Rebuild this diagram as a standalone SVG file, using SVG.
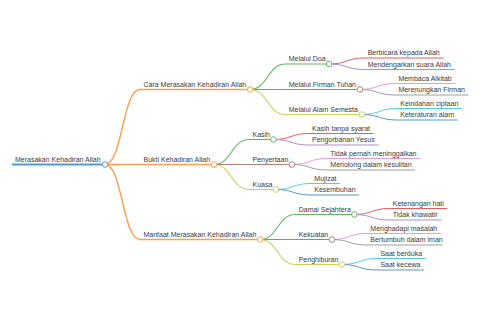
<svg xmlns="http://www.w3.org/2000/svg" width="480" height="320" viewBox="0 0 480 320">
<style>
text{font-family:"Liberation Sans",Arial,sans-serif;font-size:7px;fill:#3a3a3a}
.l0{stroke-width:1.8;fill:none}
.l1{stroke-width:1.4;fill:none}
.l2{stroke-width:1.1;fill:none}
.l3{stroke-width:1;fill:none}
circle{fill:#fff;stroke-width:1}
.c0{stroke:#5799c7}.c1{stroke:#fb9f4e}.c2{stroke:#61b861}.c3{stroke:#a98178}.c4{stroke:#cdce5a}
.c5{stroke:#e15d5e}.c6{stroke:#af8dce}.c7{stroke:#ea99d1}.c8{stroke:#9f9f9f}.c9{stroke:#51cedb}
</style>
<rect width="480" height="320" fill="#fff"/>
<g id="connectors">
<path class="l1 c1" d="M105,164.5 C122.5,164.5 122.5,89.5 140,89.5"/>
<path class="l1 c1" d="M105,164.5 L140,164.5"/>
<path class="l1 c1" d="M105,164.5 C122.5,164.5 122.5,239.5 140,239.5"/>
<path class="l2 c2" d="M250.2,89.5 C267.7,89.5 267.7,64 285.2,64"/>
<path class="l2 c3" d="M250.2,89.5 L285.2,89.5"/>
<path class="l2 c4" d="M250.2,89.5 C267.7,89.5 267.7,114.5 285.2,114.5"/>
<path class="l3 c5" d="M329.2,64 C346.7,64 346.7,58 364.2,58"/>
<path class="l3 c6" d="M329.2,64 C346.7,64 346.7,69.5 364.2,69.5"/>
<path class="l3 c7" d="M359.9,89.5 C377.4,89.5 377.4,83.5 394.9,83.5"/>
<path class="l3 c8" d="M359.9,89.5 C377.4,89.5 377.4,95 394.9,95"/>
<path class="l3 c9" d="M361.8,114.5 C379.3,114.5 379.3,108.5 396.8,108.5"/>
<path class="l3 c0" d="M361.8,114.5 C379.3,114.5 379.3,120 396.8,120"/>
<path class="l2 c2" d="M214,164.5 C231.5,164.5 231.5,139.5 249,139.5"/>
<path class="l2 c3" d="M214,164.5 L249,164.5"/>
<path class="l2 c4" d="M214,164.5 C231.5,164.5 231.5,189.5 249,189.5"/>
<path class="l3 c5" d="M273.5,139.5 C291,139.5 291,133.5 308.5,133.5"/>
<path class="l3 c6" d="M273.5,139.5 C291,139.5 291,145 308.5,145"/>
<path class="l3 c7" d="M291.8,164.5 C309.3,164.5 309.3,158.5 326.8,158.5"/>
<path class="l3 c8" d="M291.8,164.5 C309.3,164.5 309.3,170 326.8,170"/>
<path class="l3 c9" d="M275.8,189.5 C293.3,189.5 293.3,183.5 310.8,183.5"/>
<path class="l3 c0" d="M275.8,189.5 C293.3,189.5 293.3,195 310.8,195"/>
<path class="l2 c2" d="M260.2,239.5 C277.7,239.5 277.7,214.5 295.2,214.5"/>
<path class="l2 c3" d="M260.2,239.5 L295.2,239.5"/>
<path class="l2 c4" d="M260.2,239.5 C277.7,239.5 277.7,264.5 295.2,264.5"/>
<path class="l3 c5" d="M354.3,214.5 C371.8,214.5 371.8,208.5 389.3,208.5"/>
<path class="l3 c6" d="M354.3,214.5 C371.8,214.5 371.8,220 389.3,220"/>
<path class="l3 c7" d="M331.8,239.5 C349.3,239.5 349.3,233.5 366.8,233.5"/>
<path class="l3 c8" d="M331.8,239.5 C349.3,239.5 349.3,245 366.8,245"/>
<path class="l3 c9" d="M341.9,264.5 C359.4,264.5 359.4,258.5 376.9,258.5"/>
<path class="l3 c0" d="M341.9,264.5 C359.4,264.5 359.4,270 376.9,270"/>
</g>
<g id="root"><line class="l0 c0" x1="12" y1="164.5" x2="105" y2="164.5"/><text x="15" y="161.5">Merasakan Kehadiran Allah</text><circle class="c0" cx="105" cy="164.5" r="2.8"/></g>
<g id="cara"><line class="l1 c1" x1="140" y1="89.5" x2="250.2" y2="89.5"/><text x="143.5" y="86.5">Cara Merasakan Kehadiran Allah</text><circle class="c1" cx="250.2" cy="89.5" r="2.8"/></g>
<g id="bukti"><line class="l1 c1" x1="140" y1="164.5" x2="214" y2="164.5"/><text x="143.5" y="161.5">Bukti Kehadiran Allah</text><circle class="c1" cx="214" cy="164.5" r="2.8"/></g>
<g id="manfaat"><line class="l1 c1" x1="140" y1="239.5" x2="260.2" y2="239.5"/><text x="143.5" y="236.5">Manfaat Merasakan Kehadiran Allah</text><circle class="c1" cx="260.2" cy="239.5" r="2.8"/></g>
<g id="doa"><line class="l2 c2" x1="285.2" y1="64" x2="329.2" y2="64"/><text x="288.7" y="61">Melalui Doa</text><circle class="c2" cx="329.2" cy="64" r="2.8"/></g>
<g id="firman"><line class="l2 c3" x1="285.2" y1="89.5" x2="359.9" y2="89.5"/><text x="288.7" y="86.5">Melalui Firman Tuhan</text><circle class="c3" cx="359.9" cy="89.5" r="2.8"/></g>
<g id="alam"><line class="l2 c4" x1="285.2" y1="114.5" x2="361.8" y2="114.5"/><text x="288.7" y="111.5">Melalui Alam Semesta</text><circle class="c4" cx="361.8" cy="114.5" r="2.8"/></g>
<g id="berbicara"><line class="l3 c5" x1="364.2" y1="58" x2="443.6" y2="58"/><text x="367.7" y="55">Berbicara kepada Allah</text></g>
<g id="mendengarkan"><line class="l3 c6" x1="364.2" y1="69.5" x2="454.8" y2="69.5"/><text x="367.7" y="66.5">Mendengarkan suara Allah</text></g>
<g id="membaca"><line class="l3 c7" x1="394.9" y1="83.5" x2="455.6" y2="83.5"/><text x="398.4" y="80.5">Membaca Alkitab</text></g>
<g id="merenungkan"><line class="l3 c8" x1="394.9" y1="95" x2="468.4" y2="95"/><text x="398.4" y="92">Merenungkan Firman</text></g>
<g id="keindahan"><line class="l3 c9" x1="396.8" y1="108.5" x2="461.8" y2="108.5"/><text x="400.3" y="105.5">Keindahan ciptaan</text></g>
<g id="keteraturan"><line class="l3 c0" x1="396.8" y1="120" x2="457.5" y2="120"/><text x="400.3" y="117">Keteraturan alam</text></g>
<g id="kasih"><line class="l2 c2" x1="249" y1="139.5" x2="273.5" y2="139.5"/><text x="252.5" y="136.5">Kasih</text><circle class="c2" cx="273.5" cy="139.5" r="2.8"/></g>
<g id="penyertaan"><line class="l2 c3" x1="249" y1="164.5" x2="291.8" y2="164.5"/><text x="252.5" y="161.5">Penyertaan</text><circle class="c3" cx="291.8" cy="164.5" r="2.8"/></g>
<g id="kuasa"><line class="l2 c4" x1="249" y1="189.5" x2="275.8" y2="189.5"/><text x="252.5" y="186.5">Kuasa</text><circle class="c4" cx="275.8" cy="189.5" r="2.8"/></g>
<g id="kasih-tanpa-syarat"><line class="l3 c5" x1="308.5" y1="133.5" x2="373.5" y2="133.5"/><text x="312" y="130.5">Kasih tanpa syarat</text></g>
<g id="pengorbanan"><line class="l3 c6" x1="308.5" y1="145" x2="378.8" y2="145"/><text x="312" y="142">Pengorbanan Yesus</text></g>
<g id="tidak-pernah"><line class="l3 c7" x1="326.8" y1="158.5" x2="420.1" y2="158.5"/><text x="330.3" y="155.5">Tidak pernah meninggalkan</text></g>
<g id="menolong"><line class="l3 c8" x1="326.8" y1="170" x2="415.1" y2="170"/><text x="330.3" y="167">Menolong dalam kesulitan</text></g>
<g id="mujizat"><line class="l3 c9" x1="310.8" y1="183.5" x2="340" y2="183.5"/><text x="314.3" y="180.5">Mujizat</text></g>
<g id="kesembuhan"><line class="l3 c0" x1="310.8" y1="195" x2="359" y2="195"/><text x="314.3" y="192">Kesembuhan</text></g>
<g id="damai"><line class="l2 c2" x1="295.2" y1="214.5" x2="354.3" y2="214.5"/><text x="298.7" y="211.5">Damai Sejahtera</text><circle class="c2" cx="354.3" cy="214.5" r="2.8"/></g>
<g id="kekuatan"><line class="l2 c3" x1="295.2" y1="239.5" x2="331.8" y2="239.5"/><text x="298.7" y="236.5">Kekuatan</text><circle class="c3" cx="331.8" cy="239.5" r="2.8"/></g>
<g id="penghiburan"><line class="l2 c4" x1="295.2" y1="264.5" x2="341.9" y2="264.5"/><text x="298.7" y="261.5">Penghiburan</text><circle class="c4" cx="341.9" cy="264.5" r="2.8"/></g>
<g id="ketenangan"><line class="l3 c5" x1="389.3" y1="208.5" x2="447.3" y2="208.5"/><text x="392.8" y="205.5">Ketenangan hati</text></g>
<g id="tidak-khawatir"><line class="l3 c6" x1="389.3" y1="220" x2="441.4" y2="220"/><text x="392.8" y="217">Tidak khawatir</text></g>
<g id="menghadapi"><line class="l3 c7" x1="366.8" y1="233.5" x2="440.7" y2="233.5"/><text x="370.3" y="230.5">Menghadapi masalah</text></g>
<g id="bertumbuh"><line class="l3 c8" x1="366.8" y1="245" x2="442.7" y2="245"/><text x="370.3" y="242">Bertumbuh dalam iman</text></g>
<g id="saat-berduka"><line class="l3 c9" x1="376.9" y1="258.5" x2="425.5" y2="258.5"/><text x="380.4" y="255.5">Saat berduka</text></g>
<g id="saat-kecewa"><line class="l3 c0" x1="376.9" y1="270" x2="423.9" y2="270"/><text x="380.4" y="267">Saat kecewa</text></g>
</svg>
